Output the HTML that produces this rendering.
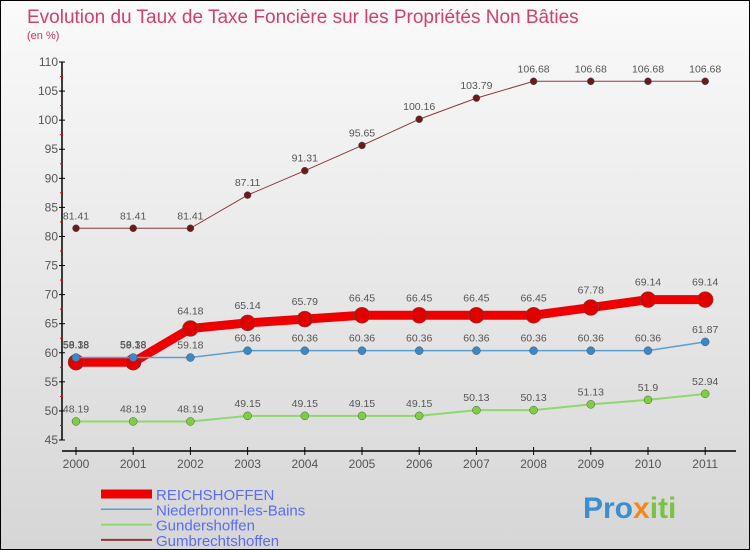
<!DOCTYPE html>
<html><head><meta charset="utf-8"><style>
body{margin:0;}
#c{width:748px;height:548px;border:1px solid #000;background:linear-gradient(#fafafa,#d6d6d6);position:relative;overflow:hidden;font-family:"Liberation Sans",sans-serif;}
</style></head><body>
<div id="c">
<svg id="s" width="748" height="548" xmlns="http://www.w3.org/2000/svg" style="position:absolute;left:0;top:0">
<text x="26" y="22" font-size="19" fill="#d0406a">Evolution du Taux de Taxe Foncière sur les Propriétés Non Bâties</text>
<text x="26" y="38" font-size="11" fill="#c8325e">(en %)</text>
<g id="axes"></g><g id="series"></g><g id="legend"></g>
<text x="582" y="517" font-size="30" font-weight="bold" fill="#3a8fd0">Pro<tspan fill="#f08a1c">x</tspan><tspan fill="#7cc242">iti</tspan></text>
</svg>
</div>
<script>
const years=["2000","2001","2002","2003","2004","2005","2006","2007","2008","2009","2010","2011"];
const yTicks=[45,50,55,60,65,70,75,80,85,90,95,100,105,110];
const reichshoffen=[58.38,58.38,64.18,65.14,65.79,66.45,66.45,66.45,66.45,67.78,69.14,69.14];
const niederbronn=[59.18,59.18,59.18,60.36,60.36,60.36,60.36,60.36,60.36,60.36,60.36,61.87];
const gundershoffen=[48.19,48.19,48.19,49.15,49.15,49.15,49.15,50.13,50.13,51.13,51.9,52.94];
const gumbrechtshoffen=[81.41,81.41,81.41,87.11,91.31,95.65,100.16,103.79,106.68,106.68,106.68,106.68];
const NS="http://www.w3.org/2000/svg";
function X(i){return 75+i*57.2;}
function Y(v){return 439-(v-45)*(378/65);}
function mk(tag,at,parent){const e=document.createElementNS(NS,tag);for(const k in at)e.setAttribute(k,at[k]);parent.appendChild(e);return e;}
const ax=document.getElementById('axes');
let yl=mk('line',{x1:61,y1:Y(110),x2:61,y2:Y(45),stroke:'#000','stroke-width':1.5},ax);


yTicks.forEach(v=>{
  mk('line',{x1:58,y1:Y(v),x2:64,y2:Y(v),stroke:'#000'},ax);
  if(v<110)mk('line',{x1:59,y1:Y(v+2.5),x2:62,y2:Y(v+2.5),stroke:'#e00'},ax);
  const t=mk('text',{x:57,y:Y(v)+4,'font-size':12,fill:'#555','text-anchor':'end'},ax);t.textContent=v;
  
  
});
let xl=mk('line',{x1:61,y1:450,x2:735,y2:450,stroke:'#000','stroke-width':1.5},ax);


years.forEach((y,i)=>{
  mk('line',{x1:X(i),y1:446,x2:X(i),y2:454,stroke:'#000'},ax);
  const t=mk('text',{x:X(i),y:467,'font-size':12,fill:'#555','text-anchor':'middle'},ax);t.textContent=y;
  
  
});
const sg=document.getElementById('series');
const series=[
 {name:'gumbrechtshoffen',d:gumbrechtshoffen,c:'#8b3a3a',w:1,r:3.5,f:'#6b1a1a'},
 {name:'gundershoffen',d:gundershoffen,c:'#8fd870',w:2,r:4,f:'#7cd040'},
 {name:'reichshoffen',d:reichshoffen,c:'#ee0000',w:9,r:8,f:'#e00000'},
 {name:'niederbronn',d:niederbronn,c:'#5a9fd0',w:1.5,r:4,f:'#3a88c8'}
];
series.forEach(s=>{
  const g=mk('g',{},sg);
  
  
  const pl=mk('polyline',{points:s.d.map((v,i)=>X(i)+','+Y(v)).join(' '),fill:'none',stroke:s.c,'stroke-width':s.w},g);
  
  
  s.d.forEach((v,i)=>{
    const p=mk('circle',{cx:X(i),cy:Y(v),r:s.r,fill:s.f,stroke:'#555','stroke-width':0.5},g);
    
    
    const t=mk('text',{x:X(i),y:Y(v)-(s.name==='reichshoffen'?14:9),'font-size':10.5,fill:'#555','text-anchor':'middle'},g);
    t.textContent=String(v);
    
    
  });
});
const lg=document.getElementById('legend');
const leg=[['REICHSHOFFEN','#ee0000',9],['Niederbronn-les-Bains','#5a9fd0',1.5],['Gundershoffen','#8fd870',2],['Gumbrechtshoffen','#8b3a3a',2]];
leg.forEach((l,i)=>{
  const y=493+i*15.3;
  const g=mk('g',{},lg);
  
  
  mk('line',{x1:100,y1:y,x2:151,y2:y,stroke:l[1],'stroke-width':l[2]},g);
  const t=mk('text',{x:155,y:y+6,'font-size':15,fill:'#5a6cf0'},g);t.textContent=l[0];
});
</script>
</body></html>
